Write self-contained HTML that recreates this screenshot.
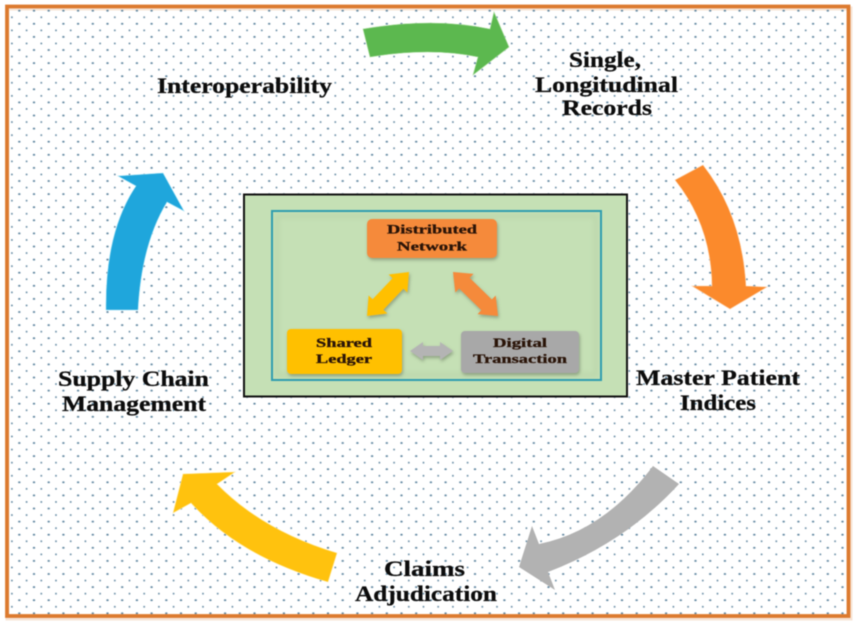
<!DOCTYPE html>
<html><head><meta charset="utf-8"><style>
html,body{margin:0;padding:0;background:#fff;width:860px;height:625px;overflow:hidden}
svg{display:block;filter:blur(.6px)}
text{font-family:"Liberation Serif",serif;font-weight:bold;fill:#0c0c0c}
.b{font-size:22px;text-anchor:start;stroke:#0c0c0c;stroke-width:.25}
.s{font-size:12.5px;fill:#2a1408;stroke:#2a1408;stroke-width:.3}
</style></head><body>
<svg width="860" height="625" viewBox="0 0 860 625" xmlns="http://www.w3.org/2000/svg">
<defs>
<pattern id="d" x="4.6" y="4.2" width="14.7" height="13.1" patternUnits="userSpaceOnUse">
<circle cx="14.4" cy="6.5" r=".9" fill="#5f86a0"/><circle cx="0.3" cy="6.5" r=".9" fill="#5f86a0"/>
<circle cx="7.3" cy="13" r=".9" fill="#5f86a0"/><circle cx="7.3" cy="0" r=".9" fill="#5f86a0"/>
</pattern>
<filter id="sh" x="-20%" y="-20%" width="140%" height="140%"><feDropShadow dx="1" dy="2" stdDeviation="1.500" flood-color="#6a7a60" flood-opacity=".6"/></filter>
<filter id="soft" x="-5%" y="-5%" width="110%" height="110%"><feGaussianBlur stdDeviation="2.500"/></filter>
</defs>
<rect width="860" height="625" fill="#fff"/>
<rect x="7.500" y="8.500" width="843" height="610" fill="none" stroke="#f3d9c4" stroke-width="4" opacity=".7"/>
<rect x="7" y="6.500" width="841.500" height="609.500" fill="url(#d)" stroke="#dc7a2f" stroke-width="3.800"/>

<path d="M363 29Q433 17 490 29L494 12L509 47L473 75L478 57Q431 47 370 57Z" fill="#5cb84f" stroke="#a8dc9c" stroke-width=".6"/>
<path d="M675 180L703 165Q742 215 746 286L767 287L730 309L692 286L712 286Q711 225 675 180Z" fill="#fb8a2c" stroke="#fdd0a8" stroke-width=".6"/>
<path d="M653 466L679 484Q626 542 548 572L555 590L519 567L532 526L539 544Q604 531 653 466Z" fill="#b2b2b2"/>
<path d="M337 553L328 582Q240 557 191 503L173 513L183 474L235 472L217 484Q263 531 337 553Z" fill="#ffc20e" stroke="#ffe89a" stroke-width=".6"/>
<path d="M106 310L138 310Q141.500 244 167 202L184 211L163 173L118 176L136 186Q105 232 106 310Z" fill="#1fa6dc" stroke="#a0e0f5" stroke-width=".6"/>

<text class="b" x="157" y="93" textLength="175" lengthAdjust="spacingAndGlyphs">Interoperability</text>
<text class="b" x="569" y="67" textLength="72" lengthAdjust="spacingAndGlyphs">Single,</text>
<text class="b" x="535" y="92" textLength="143" lengthAdjust="spacingAndGlyphs">Longitudinal</text>
<text class="b" x="562" y="115" textLength="90" lengthAdjust="spacingAndGlyphs">Records</text>
<text class="b" x="636" y="385" textLength="164" lengthAdjust="spacingAndGlyphs">Master Patient</text>
<text class="b" x="680" y="410" textLength="76" lengthAdjust="spacingAndGlyphs">Indices</text>
<text class="b" x="384" y="576" textLength="81" lengthAdjust="spacingAndGlyphs">Claims</text>
<text class="b" x="355" y="601" textLength="142" lengthAdjust="spacingAndGlyphs">Adjudication</text>
<text class="b" x="58" y="386" textLength="151" lengthAdjust="spacingAndGlyphs">Supply Chain</text>
<text class="b" x="62" y="411" textLength="144" lengthAdjust="spacingAndGlyphs">Management</text>

<rect x="244" y="194.500" width="383" height="202" fill="#c5e0b5" stroke="#111" stroke-width="2"/>
<rect x="277" y="216" width="319" height="159" fill="none" stroke="#b4cfa4" stroke-width="5" opacity=".45" filter="url(#soft)"/>
<rect x="272" y="211" width="329" height="169" fill="none" stroke="#2f9db0" stroke-width="2"/>
<rect x="367" y="219" width="130" height="39" rx="5" fill="#f58a3a" filter="url(#sh)"/>
<rect x="287" y="329" width="115" height="45" rx="4" fill="#ffc000" filter="url(#sh)"/>
<rect x="461" y="331" width="118" height="42" rx="4" fill="#a8a8a8" filter="url(#sh)"/>

<path d="M409 272L407.400 292.500L403.400 288.700L383.400 309.700L387.400 313.500L367 316L368.600 295.500L372.600 299.300L392.600 278.300L388.600 274.500Z" fill="#ffc000" filter="url(#sh)"/>
<path d="M453 272L473.500 273.900L469.650 277.850L491.850 299.450L495.700 295.500L498 316L477.500 314.100L481.350 310.150L459.150 288.550L455.300 292.500Z" fill="#f58a3a" filter="url(#sh)"/>
<path d="M410 351L423 342V346H440V342L453 351L440 360V356H423V360Z" fill="#b4b4b4" filter="url(#sh)"/>

<text class="s" x="387" y="233.500" textLength="90" lengthAdjust="spacingAndGlyphs">Distributed</text>
<text class="s" x="397" y="250.500" textLength="70" lengthAdjust="spacingAndGlyphs">Network</text>
<text class="s" x="316" y="347" textLength="56" lengthAdjust="spacingAndGlyphs">Shared</text>
<text class="s" x="316" y="363" textLength="56" lengthAdjust="spacingAndGlyphs">Ledger</text>
<text class="s" x="493" y="347" textLength="54" lengthAdjust="spacingAndGlyphs">Digital</text>
<text class="s" x="473" y="363" textLength="94" lengthAdjust="spacingAndGlyphs">Transaction</text>
</svg>
</body></html>
